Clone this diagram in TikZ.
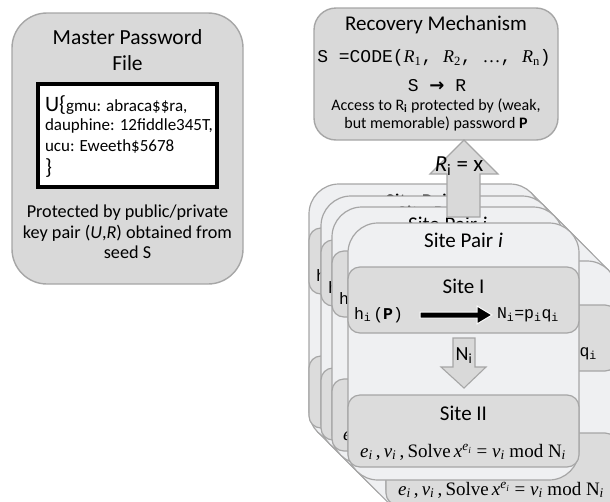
\documentclass[tikz,border=0pt]{standalone}
\usepackage{fontspec}
\setmainfont{Carlito}
\newfontfamily\mono{Liberation Mono}
\newfontfamily\serif{Liberation Serif}
\newfontfamily\dejavu{DejaVu Sans}

\definecolor{boxgray}{HTML}{D9D9D9}
\definecolor{edgegray}{HTML}{A6A6A6}
\definecolor{cardface}{HTML}{EFF0F2}
\definecolor{sitegray}{HTML}{DCDCDC}

\newcommand\fs[1]{\fontsize{#1}{#1}\selectfont}
\newcommand\Rsub[1]{{\serif\itshape R}\textsubscript{\serif #1}}
\newcommand\solveformula{\textit{e}\textsubscript{\textit{i}}\,,\,\textit{v}\textsubscript{\textit{i}}\,,\,Solve\,\textit{x}\textsuperscript{\textit{e}\textsubscript{\textit{i}}} = \textit{v}\textsubscript{\textit{i}} mod N\textsubscript{\textit{i}}}

\tikzset{
  panel/.style={fill=boxgray, draw=edgegray, line width=1.4pt},
  cardbox/.style={fill=cardface, draw=edgegray, line width=1.2pt, rounded corners=30pt},
  sitebox/.style={fill=sitegray, draw=edgegray, line width=1.2pt, rounded corners=12pt},
  blockarrow/.style={fill=boxgray, draw=edgegray, line width=1.1pt},
  lbl/.style={inner sep=0pt, outer sep=0pt},
  extrudeline/.style={draw=edgegray, line width=1.1pt},
  titlefont/.style={font=\fs{21}},
  monofont/.style={font=\mono\fs{16.5}},
  formulafont/.style={font=\serif\fs{19}},
}

% the depth of a card, swept towards the lower right
\newcommand\cardextrude[2]{%
\begin{scope}[shift={(#1,#2)}]
  \foreach \d in {0,2,...,38}
    \fill[cardface, rounded corners=30pt] (348+\d,223+\d) rectangle (579+\d,480+\d);
  \draw[extrudeline] (570.2,231.8) -- (608.2,269.8);
  \draw[extrudeline] (356.8,471.2) -- (394.8,509.2);
\end{scope}}

% a card lying behind the front one: only the parts that show
\newcommand\backcard[3]{%
\begin{scope}[shift={(#1,#2)}]
  \draw[cardbox] (348,223) rectangle (579,480);
  \node[lbl,titlefont] (#3pair) at (463.5,240) {Site Pair \textit{i}};
  \draw[sitebox] (348,267) rectangle (579,333);
  \node[lbl,anchor=west,monofont] (#3h) at (355,315) {h};
  \draw[sitebox] (348,395) rectangle (579,467);
\end{scope}}

% the rear face of the front card
\newcommand\rearcard[3]{%
\begin{scope}[shift={(#1,#2)}]
  \draw[cardbox] (348,223) rectangle (579,480);
  \draw[sitebox] (348,267) rectangle (579,333);
  \node[lbl,anchor=west,monofont] (#3N) at (497,315) {N\textsubscript{i}=p\textsubscript{i}q\textsubscript{i}};
  \draw[sitebox] (348,395) rectangle (579,467);
  \node[lbl,formulafont] (#3f) at (463,452) {\solveformula};
\end{scope}}

\begin{document}
\begin{tikzpicture}[x=1pt,y=-1pt]
\useasboundingbox (0,0) rectangle (610,501);
\clip (0,0) rectangle (610,501);

% ---------- Master password file ----------
\draw[panel, rounded corners=35pt] (12,13) rectangle (243,284);
\node[lbl,font=\fs{21.5},align=center] (mtitle) at (127.5,50) {Master Password\\[4pt]File};
\draw[fill=white, draw=black, line width=3.5pt] (38,84) rectangle (217,187);
\node[lbl,anchor=west,font=\fs{17}] (m1) at (45,105) {{\fs{22}U\{}gmu: abraca\$\$ra,};
\node[lbl,anchor=west,font=\fs{17}] (m2) at (45,126) {dauphine: 12fiddle345T,};
\node[lbl,anchor=west,font=\fs{17}] (m3) at (45,147) {ucu: Eweeth\$5678};
\node[lbl,anchor=west,font=\fs{22}] (m4) at (45,168) {\}};
\node[lbl,font=\fs{18.2},align=center] (mbottom) at (127.5,232) {Protected by public/private\\[2.5pt]key pair (\textit{U},\textit{R}) obtained from\\[2.5pt]seed S};

% ---------- Recovery mechanism ----------
\draw[panel, rounded corners=22pt] (314,8) rectangle (558,140);
\node[lbl,font=\fs{21}] (rtitle) at (436,25) {Recovery Mechanism};
\node[lbl,font=\mono\fs{18}] (rcode) at (434,58) {S =CODE(\Rsub{1}, \Rsub{2}, {\serif …}, \Rsub{n})};
\node[lbl,font=\mono\fs{18}] (rsr) at (437,86) {S\ {\dejavu\bfseries →}\ R};
\node[lbl,font=\fs{16},align=center] (raccess) at (436,114.5) {Access to R\textsubscript{\textbf{i}} protected by (weak,\\[2pt]but memorable) password \textbf{P}};

% ---------- stack of site pairs (back cards) ----------
\cardextrude{-39}{-39}
\backcard{-39}{-39}{a}
\cardextrude{-27}{-27}
\backcard{-27}{-27}{b}
\cardextrude{-16}{-16}
\backcard{-16}{-16}{c}
\node[lbl,formulafont,anchor=west] (cf) at (343,436) {\textit{e}};

% ---------- arrow up to the recovery mechanism ----------
\draw[blockarrow] (447,217) -- (447,174) -- (430,174) -- (464,140) -- (498,174) -- (480,174) -- (480,217) -- cycle;
\node[lbl,font=\fs{23}] (rix) at (459,166) {\textit{R}\textsubscript{i} = x};

% ---------- front card with its depth ----------
\cardextrude{0}{0}
\rearcard{38}{38}{back}
\draw[cardbox] (348,223) rectangle (579,480);
\node[lbl,titlefont] (fpair) at (463.5,240) {Site Pair \textit{i}};
\draw[sitebox] (348,267) rectangle (579,333);
\node[lbl,titlefont] (fone) at (463.5,286) {Site I};
\node[lbl,anchor=west,monofont] (fh) at (354,315) {h\textsubscript{i}\kern2pt(\textbf{P})};
\node[lbl,anchor=west,monofont] (fN) at (497,315) {N\textsubscript{i}=p\textsubscript{i}q\textsubscript{i}};
\draw[fill=black, draw=white, line width=1pt] (420,312) -- (477,312) -- (477,306) -- (492,315) -- (477,324) -- (477,318) -- (420,318) -- cycle;
\draw[blockarrow] (453,338) -- (475,338) -- (475,367) -- (486,367) -- (464,388) -- (441,367) -- (453,367) -- cycle;
\node[lbl,font=\fs{20}] (fNi) at (464,356) {N\textsubscript{i}};
\draw[sitebox] (348,395) rectangle (579,467);
\node[lbl,titlefont] (ftwo) at (463.5,413) {Site II};
\node[lbl,formulafont] (ff) at (463,452) {\solveformula};

\end{tikzpicture}
\end{document}
